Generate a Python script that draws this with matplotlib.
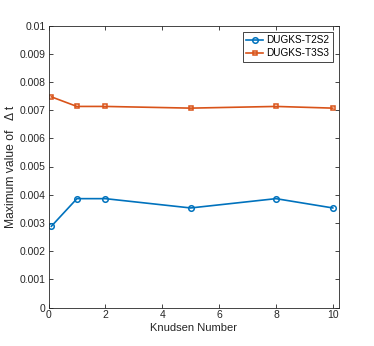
import matplotlib
matplotlib.use("Agg")
import matplotlib.pyplot as plt

knudsen = [0.1, 1, 2, 5, 8, 10]
dt_t2s2 = [0.00288, 0.00386, 0.00386, 0.00353, 0.00386, 0.00353]
dt_t3s3 = [0.00747, 0.00713, 0.00713, 0.00707, 0.00713, 0.00707]

plt.rcParams['font.family'] = ['Liberation Sans', 'DejaVu Sans']
plt.rcParams['font.size'] = 7.5

fig = plt.figure(figsize=(3.74, 3.46), dpi=100)
ax = fig.add_axes([48.5 / 374, 1 - 307.5 / 346, 290 / 374, 282 / 346])

ax.plot(knudsen, dt_t2s2, color='#0072BD', marker='o', markersize=4,
        markerfacecolor='none', markeredgewidth=1.1, linewidth=1.2, label='DUGKS-T2S2')
ax.plot(knudsen, dt_t3s3, color='#D95319', marker='s', markersize=3.5,
        markerfacecolor='none', markeredgewidth=1.1, linewidth=1.2, label='DUGKS-T3S3')

ax.set_xlim(0, 10.2)
ax.set_ylim(0, 0.01)
ax.set_xticks([0, 2, 4, 6, 8, 10])
ax.set_yticks([i / 1000 for i in range(11)])
ax.set_yticklabels(['0'] + ['%.3f' % (i / 1000) for i in range(1, 10)] + ['0.01'])

ax.set_xlabel('Knudsen Number', color='#262626', labelpad=2, fontsize=8)
ax.set_ylabel('Maximum value of   \u0394 t', color='#262626', labelpad=2, fontsize=8.7)

for sp in ax.spines.values():
    sp.set_color('#262626')
    sp.set_linewidth(0.6)
ax.tick_params(direction='in', length=3, width=0.6, colors='#262626',
               top=True, right=True, pad=2)

leg = ax.legend(loc='upper right', fancybox=False, framealpha=1,
                edgecolor='#262626', borderpad=0.35, handlelength=1.7,
                handletextpad=0.3, labelspacing=0.3, borderaxespad=0.6,
                fontsize=7.2)
leg.get_frame().set_linewidth(0.6)

fig.savefig('out.png', dpi=100)
